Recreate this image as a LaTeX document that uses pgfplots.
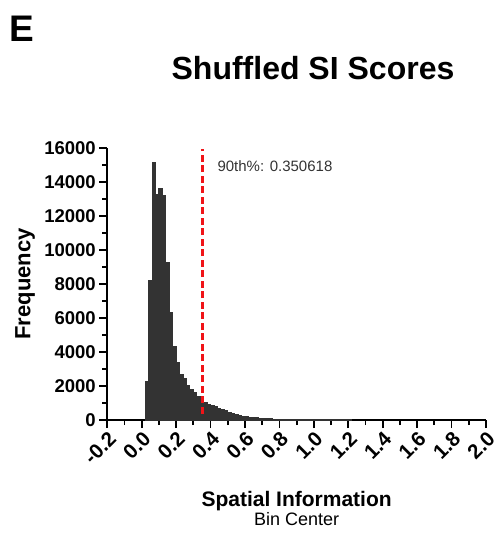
\documentclass[border=0pt]{standalone}
\usepackage{pgfplots}
\pgfplotsset{compat=1.18}
\usepackage{fontspec}
\setmainfont{Liberation Sans}
\definecolor{barfill}{HTML}{333333}
\definecolor{redline}{HTML}{F01418}
\begin{document}
\begin{tikzpicture}
\useasboundingbox (0,0) rectangle (493pt,535pt);
\node[anchor=base west, font=\bfseries\fontsize{37}{37}\selectfont, inner sep=0pt] at (9pt,493pt) {E};
\node[anchor=base, font=\bfseries\fontsize{32}{32}\selectfont, inner sep=0pt] at (313pt,455pt) {Shuffled SI Scores};
\begin{axis}[
  at={(107.3pt,115pt)}, anchor=south west,
  scale only axis, width=378.7pt, height=272pt,
  xmin=-0.2, xmax=2.0, ymin=0, ymax=16000,
  axis lines=left,
  axis line style={-, line width=2.2pt},
  tick style={line width=1.8pt, black},
  tick align=outside,
  major tick length=8pt, minor tick length=5pt,
  xtick={-0.2,0,0.2,0.4,0.6,0.8,1.0,1.2,1.4,1.6,1.8,2.0},
  minor x tick num=1,
  ytick={0,2000,4000,6000,8000,10000,12000,14000,16000},
  minor y tick num=1,
  /pgf/number format/assume math mode=true,
  xticklabel style={/pgf/number format/fixed, /pgf/number format/precision=1, /pgf/number format/fixed zerofill, rotate=45, anchor=north east, inner sep=1.5pt, font=\bfseries\fontsize{20.5}{20.5}\selectfont},
  yticklabel style={/pgf/number format/1000 sep={}, font=\bfseries\fontsize{18.5}{18.5}\selectfont},
  scaled ticks=false,
  xlabel={{\bfseries\fontsize{21}{22}\selectfont Spatial Information}\\{\fontsize{18}{20}\selectfont Bin Center}},
  xlabel style={at={(axis description cs:0.5,-0.262)}, anchor=north, align=center, inner sep=0pt},
  ylabel={Frequency},
  ylabel style={at={(axis description cs:-0.217,0.5)}, anchor=center, rotate=0, font=\bfseries\fontsize{22}{22}\selectfont},
  clip=false,
]
\addplot[ybar interval, fill=barfill, draw=barfill, line width=0pt] coordinates {
(0.02,2250) (0.04,8200) (0.06,15150) (0.08,13250) (0.10,13600) (0.12,13200)
(0.14,9250) (0.16,6350) (0.18,4300) (0.20,3400) (0.22,2700) (0.24,2450)
(0.26,2050) (0.28,1800) (0.30,1600) (0.32,1400) (0.34,1250) (0.36,1050)
(0.38,920) (0.40,840) (0.42,770) (0.44,690) (0.46,610) (0.48,530)
(0.50,450) (0.52,380) (0.54,310) (0.56,260) (0.58,220) (0.60,190)
(0.62,170) (0.64,150) (0.66,130) (0.68,110) (0.70,95) (0.72,80)
(0.74,68) (0.76,58) (0.78,50) (0.80,43) (0.82,37) (0.84,32)
(0.86,28) (0.88,25) (0.90,22) (0.92,20) (0.94,18) (0.96,15)
(0.98,13) (1.00,11) (1.02,9) (1.04,8) (1.06,6) (1.08,5)
(1.10,4) (1.12,3) (1.14,3) (1.16,2) (1.18,2) (1.20,1) (1.22,1)
};
\addplot[redline, line width=3pt, dash pattern=on 7pt off 3.5pt] coordinates {(0.350618,380) (0.350618,15950)};
\node[anchor=west, font=\fontsize{15}{15}\selectfont, text=black!80] at (axis cs:0.42,14950) {90th\%: 0.350618};
\end{axis}
\end{tikzpicture}
\end{document}
